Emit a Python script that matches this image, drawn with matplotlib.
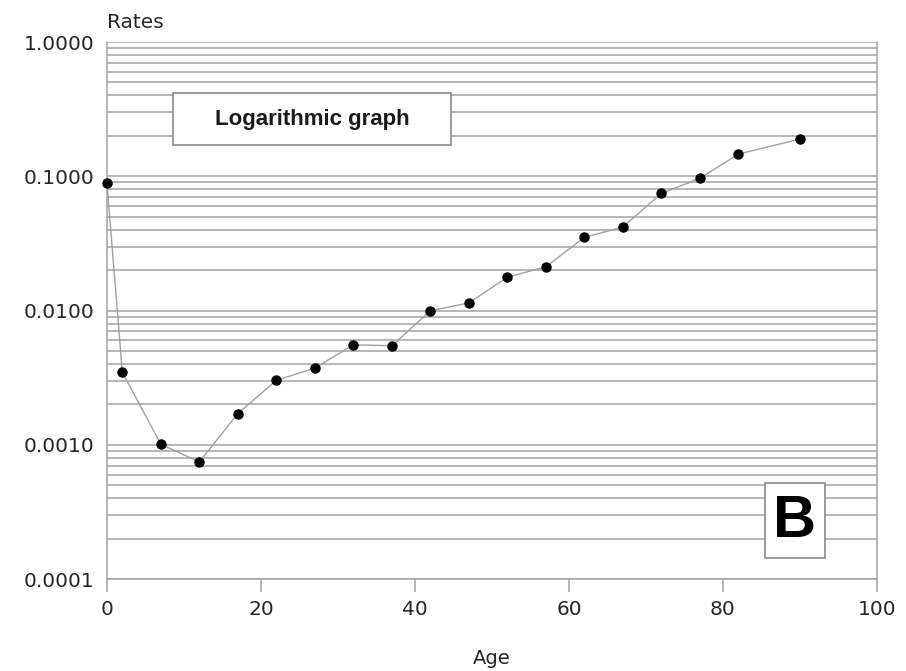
import matplotlib
matplotlib.use("Agg")
from matplotlib import pyplot as plt
from matplotlib.patches import Rectangle
from matplotlib.ticker import LogLocator, FixedLocator, FixedFormatter
import numpy as np

# values
ages = [0, 2, 7, 12, 17, 22, 27, 32, 37, 42, 47, 52, 57, 62, 67, 72, 77, 82, 90]
rates = [0.0895, 0.00348, 0.00101, 0.000745, 0.00171, 0.00302, 0.00373, 0.00556,
         0.00547, 0.00997, 0.0114, 0.0177, 0.0212, 0.0351, 0.0419, 0.0746,
         0.0966, 0.1465, 0.1895]
y_ticks = [0.0001, 0.001, 0.01, 0.1, 1.0]
y_tick_labels = ["0.0001", "0.0010", "0.0100", "0.1000", "1.0000"]
x_ticks = [0, 20, 40, 60, 80, 100]

grid_col = "#a3a3a3"
text_col = "#262626"

fig = plt.figure(figsize=(9.06, 6.71), dpi=100)
ax = fig.add_axes([0.118, 0.137, 0.850, 0.8003])

ax.set_yscale("log")
ax.set_xlim(0, 100)
ax.set_ylim(0.0001, 1.0)

# horizontal grid at every 1..9 x 10^n, no vertical grid
ax.yaxis.set_major_locator(FixedLocator(y_ticks))
ax.yaxis.set_major_formatter(FixedFormatter(y_tick_labels))
ax.yaxis.set_minor_locator(LogLocator(base=10, subs=np.arange(2, 10)))
ax.yaxis.set_minor_formatter(plt.NullFormatter())
ax.grid(True, axis="y", which="both", color=grid_col, lw=1.1)
ax.set_axisbelow(True)

ax.plot(ages, rates, color="#a0a0a0", lw=1.0, zorder=3)
ax.plot(ages, rates, "o", color="black", ms=6.5, zorder=4, clip_on=False)

ax.set_xticks(x_ticks)
ax.tick_params(axis="x", direction="out", length=9, width=1.1, color=grid_col,
               pad=6, labelsize=14.5, labelcolor=text_col)
ax.tick_params(axis="y", which="both", length=0, pad=9, labelsize=14.5,
               labelcolor=text_col)
for lab in ax.get_xticklabels() + ax.get_yticklabels():
    lab.set_family("DejaVu Sans")

for side in ["left", "right", "bottom"]:
    ax.spines[side].set_color(grid_col)
    ax.spines[side].set_linewidth(1.1)
ax.spines["top"].set_visible(False)

ax.set_xlabel("Age", fontsize=14, color=text_col, family="DejaVu Sans", labelpad=22)
fig.text(0.118, 1 - 22 / 671, "Rates", fontsize=14.5, color=text_col,
         family="DejaVu Sans", ha="left", va="center")

# "Logarithmic graph" box
ax.add_patch(Rectangle((0.0857, 0.808), 0.361, 0.097, transform=ax.transAxes,
                       facecolor="white", edgecolor="#8a8a8a", lw=1.2, zorder=5))
ax.text(0.2662, 0.8565, "Logarithmic graph", transform=ax.transAxes, ha="center",
        va="center", fontsize=16, fontweight="bold", family="Liberation Sans",
        color="#1a1a1a", zorder=6)

# "B" panel label
ax.add_patch(Rectangle((0.855, 0.0385), 0.077, 0.14, transform=ax.transAxes,
                       facecolor="white", edgecolor="#8a8a8a", lw=1.2, zorder=5))
ax.text(0.8935, 0.108, "B", transform=ax.transAxes, ha="center", va="center",
        fontsize=43, fontweight="bold", family="Liberation Sans", color="black",
        zorder=6)

fig.savefig("out.png", dpi=100)
